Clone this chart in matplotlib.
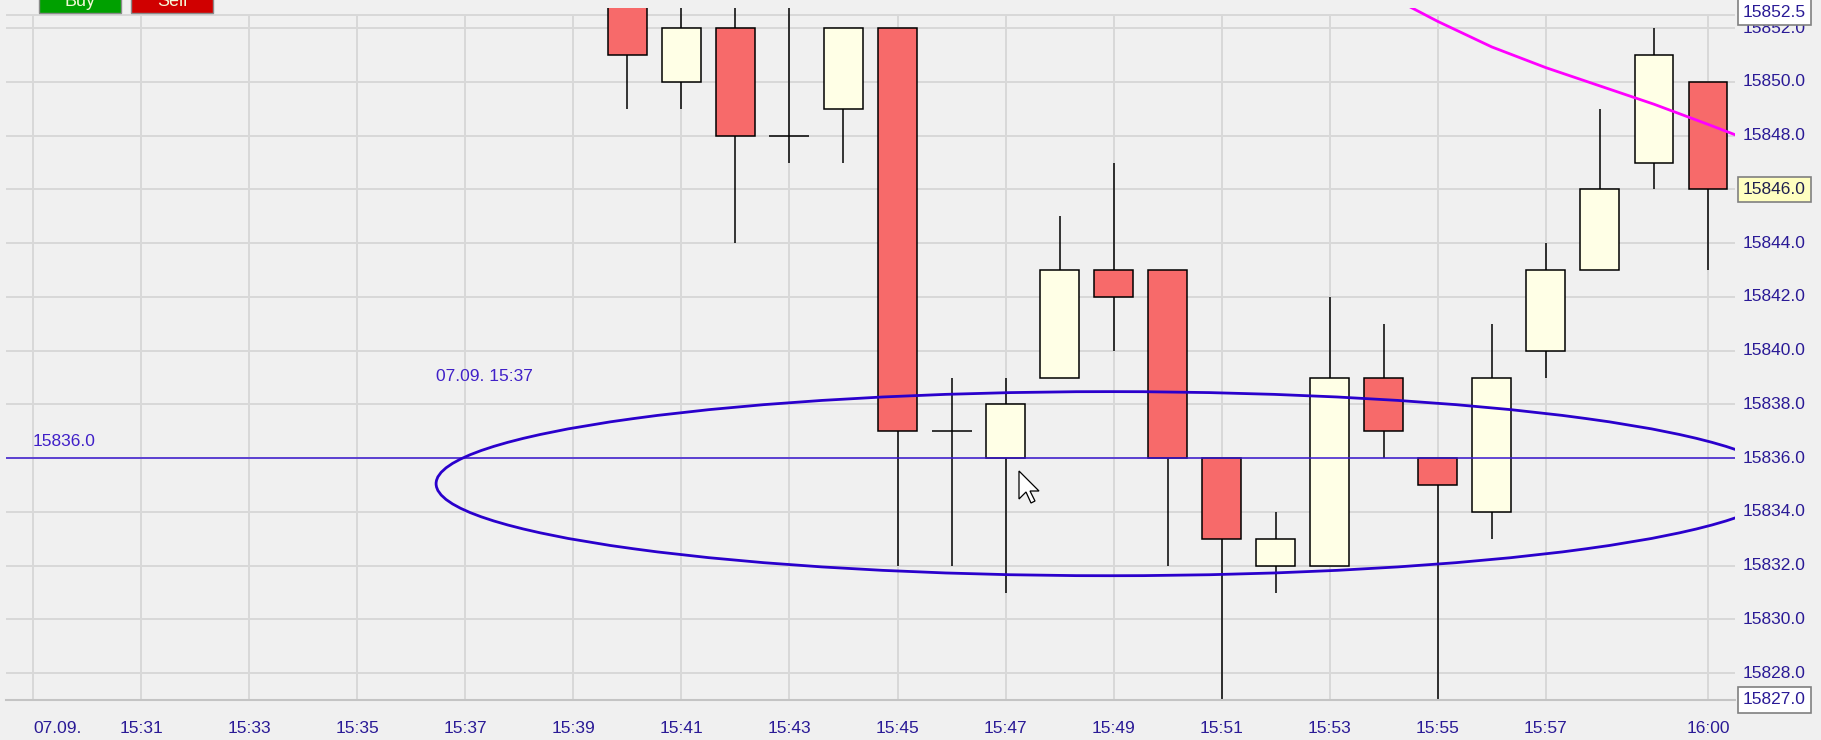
import matplotlib.pyplot as plt
from matplotlib.patches import Ellipse, Rectangle, Polygon
from matplotlib.transforms import blended_transform_factory

plt.rcParams['font.family'] = ['Liberation Sans', 'DejaVu Sans']

# minutes after 15:00, one candle per minute
minutes = [40, 41, 42, 43, 44, 45, 46, 47, 48, 49, 50, 51, 52, 53, 54, 55, 56, 57, 58, 59, 60]
opens = [15853.0, 15850, 15852, 15848, 15849, 15852, 15837, 15836, 15839, 15843, 15843,
         15836, 15832, 15832, 15839, 15836, 15834, 15840, 15843, 15847, 15850]
highs = [15853.5, 15853.5, 15853.5, 15853.5, 15852, 15852, 15839, 15839, 15845, 15847, 15843,
         15836, 15834, 15842, 15841, 15836, 15841, 15844, 15849, 15852, 15850]
lows = [15849, 15849, 15844, 15847, 15847, 15832, 15832, 15831, 15839, 15840, 15832,
        15826, 15831, 15832, 15836, 15826, 15833, 15839, 15843, 15846, 15843]
closes = [15851, 15852, 15848, 15848, 15852, 15837, 15837, 15838, 15843, 15842, 15836,
          15833, 15833, 15839, 15837, 15835, 15839, 15843, 15846, 15851, 15846]

# moving average (magenta)
ma_minutes = [54, 55, 56, 57, 58, 59, 60, 61]
ma_values = [15853.3, 15852.25, 15851.3, 15850.53, 15849.85, 15849.17, 15848.42, 15847.65]

# x axis ticks
tick_minutes = [29, 31, 33, 35, 37, 39, 41, 43, 45, 47, 49, 51, 53, 55, 57, 60]
tick_labels = ["07.09.", "15:31", "15:33", "15:35", "15:37", "15:39", "15:41", "15:43",
               "15:45", "15:47", "15:49", "15:51", "15:53", "15:55", "15:57", "16:00"]
price_levels = [15828, 15830, 15832, 15834, 15836, 15838, 15840, 15842, 15844, 15846,
                15848, 15850, 15852]

# drawing objects
hline_price = 15836.0
ellipse_center = (48.93, 15835.05)
ellipse_size = (24.94, 6.85)
ellipse_label = "07.09. 15:37"
last_price = 15846.0
top_price = 15852.5
bottom_price = 15827.0

bg = '#f0f0f0'
grid_c = '#d8d8d8'
label_c = '#2a1a96'
red = '#f76a6a'
cream = '#ffffe6'
draw_c = '#2a00cc'

W, H = 1821, 740
fig = plt.figure(figsize=(W / 100, H / 100), dpi=100, facecolor=bg)
ax = fig.add_axes([6 / W, 40 / H, 1729 / W, 692 / H])
ax.set_facecolor(bg)
ax.set_xlim(28.5, 60.5)
ax.set_ylim(15827, 15852.75)
ax.set_xticks([])
ax.set_yticks([])
for s in ['top', 'left', 'right']:
    ax.spines[s].set_visible(False)
ax.spines['bottom'].set_color('#c4c4c4')
ax.spines['bottom'].set_linewidth(1.5)

# grid
ax.hlines(price_levels + [top_price], 28.5, 60.5, color=grid_c, lw=1.4, zorder=0)
ax.vlines(tick_minutes, 15827, top_price, color=grid_c, lw=1.4, zorder=0)

# candles
for m, o, h, l, c in zip(minutes, opens, highs, lows, closes):
    ax.vlines(m, l, h, color='black', lw=1.1, zorder=2)
    if o == c:
        ax.hlines(o, m - 0.37, m + 0.37, color='black', lw=1.1, zorder=3)
    else:
        ax.bar(m, abs(c - o), bottom=min(o, c), width=0.72,
               color=cream if c > o else red, edgecolor='black', lw=1.1, zorder=3)

# moving average
ax.plot(ma_minutes, ma_values, color='#ff00ff', lw=2.0, zorder=4)

# horizontal line + ellipse
ax.axhline(hline_price, color='#3a18d0', lw=1.1, zorder=4)
ax.text(29, hline_price + 0.35, f"{hline_price:.1f}", color='#4020c8', fontsize=12.5,
        ha='left', va='bottom', zorder=5)
ell = Ellipse(ellipse_center, ellipse_size[0], ellipse_size[1], fill=False,
              edgecolor=draw_c, lw=2.0, zorder=4)
ax.add_patch(ell)
ax.text(ellipse_center[0] - ellipse_size[0] / 2, 15839.05, ellipse_label, color='#4020c8',
        fontsize=12.5, ha='left', va='center', zorder=5)

# x labels
tr = blended_transform_factory(ax.transData, ax.transAxes)
for i, (t, lab) in enumerate(zip(tick_minutes, tick_labels)):
    ax.text(t, -0.0405, lab, transform=tr, ha='left' if i == 0 else 'center', va='center',
            fontsize=12.5, color=label_c, clip_on=False)

# y labels on the right
tr_y = blended_transform_factory(ax.transAxes, ax.transData)
for p in price_levels:
    if p == last_price:
        continue
    ax.text(1.0046, p, f"{p:.1f}", transform=tr_y, ha='left', va='center',
            fontsize=12.5, color=label_c, clip_on=False)

box = dict(boxstyle='square,pad=0.3', facecolor='white', edgecolor='#808080', lw=1.2)
ax.text(1.0046, 15852.6, f"{top_price:.1f}", transform=tr_y, ha='left', va='center',
        fontsize=12.5, color=label_c, clip_on=False, bbox=box, zorder=6)
ax.text(1.0046, bottom_price, f"{bottom_price:.1f}", transform=tr_y, ha='left', va='center',
        fontsize=12.5, color=label_c, clip_on=False, bbox=box, zorder=6)
ax.text(1.0046, last_price, f"{last_price:.1f}", transform=tr_y, ha='left', va='center',
        fontsize=12.5, color='#202050', clip_on=False, zorder=6,
        bbox=dict(boxstyle='square,pad=0.3', facecolor='#ffffc0', edgecolor='#808080', lw=1.2))

# mouse pointer (pixel shape, tip near 15:47)
tip_x, tip_y = 1019, 471
shape = [(0, 0), (0, 28), (7, 21), (12, 32), (16, 30), (11, 20), (20, 20)]
fig.add_artist(Polygon([((tip_x + dx) / W, 1 - (tip_y + dy) / H) for dx, dy in shape],
                       closed=True, transform=fig.transFigure, facecolor='white',
                       edgecolor='black', lw=0.9, zorder=12))

# Buy / Sell buttons at the top (cut by the figure edge)
for x0, col, lab in [(39, '#00a000', 'Buy'), (131, '#d00000', 'Sell')]:
    fig.add_artist(Rectangle((x0 / W, 1 - 12.7 / H), 82 / W, 30 / H,
                             transform=fig.transFigure, facecolor=col,
                             edgecolor='#8a8a8a', lw=1.0, zorder=10))
    fig.text((x0 + 41) / W, 1 - 1.5 / H, lab, ha='center', va='center',
             fontsize=13, color='#f4f8d8', zorder=11)

fig.savefig('out.png', dpi=100, facecolor=bg)
